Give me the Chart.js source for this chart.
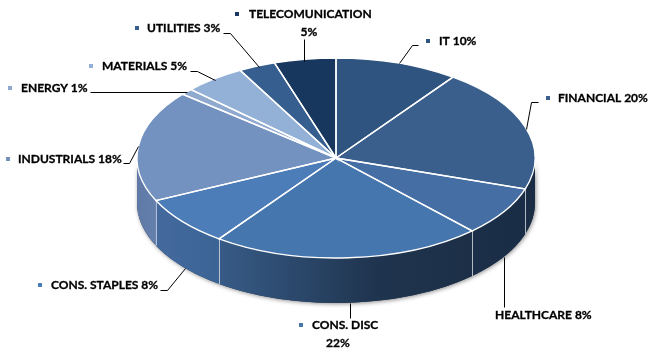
<!DOCTYPE html>
<html lang="en">
<head>
    <meta charset="UTF-8">
    <title>Sector allocation</title>
    <style>
        body { margin: 0; background: #fff; }
        canvas { display: block; }
    </style>
</head>
<body>
    <canvas id="pie" width="653" height="355"></canvas>

    <script src="https://cdn.jsdelivr.net/npm/chart.js"></script>
    <script>
        // values, clockwise from 12 o'clock
        const categories = ['IT', 'FINANCIAL', 'HEALTHCARE', 'CONS. DISC', 'CONS. STAPLES', 'INDUSTRIALS', 'ENERGY', 'MATERIALS', 'UTILITIES', 'TELECOMUNICATION'];
        const weights = [10, 20, 8, 22, 8, 18, 1, 5, 3, 5];

        // top face colours and the matching wall gradient (left to right)
        const topColors = ['#2f5480', '#3a5f8c', '#456fa4', '#4676ae', '#4d7db8', '#7492c0', '#8fa9cf', '#93b0d6', '#365e8e', '#17375e'];
        const wallColors = [
            ['#2f5480', '#2f5480'], ['#1b2e45', '#1a2c43'], ['#1b2f48', '#1a2d46'],
            ['#375b87', '#1c2f47'], ['#44699e', '#3b6494'], ['#6079a6', '#6480ac'],
            ['#8fa9cf', '#8fa9cf'], ['#93b0d6', '#93b0d6'], ['#365e8e', '#365e8e'], ['#17375e', '#17375e']
        ];
        // shape of the tilted pie on the page
        const pieX = 336, pieY = 158, pieRX = 199, pieRY = 100, pieDepth = 45;

        // label placement: text x, text y, marker x (null = no marker), line break, extra line x
        const labelFont = 'bold 12px Lato';
        const labelSpots = [
            { x: 439, y: 41, mark: 428, sep: ' ' },
            { x: 558, y: 98, mark: 548, sep: ' ' },
            { x: 495, y: 315, mark: null, sep: ' ' },
            { x: 312, y: 325, mark: 301, sep: '\n', x2: 338, y2: 343 },
            { x: 51, y: 285, mark: 40, sep: ' ' },
            { x: 18, y: 159, mark: 8, sep: ' ' },
            { x: 21, y: 88, mark: 10, sep: ' ' },
            { x: 102, y: 66, mark: 91, sep: ' ' },
            { x: 147, y: 28, mark: 137, sep: ' ' },
            { x: 249, y: 14, mark: 237, sep: '\n', x2: 309, y2: 32 }
        ];
        const leaderLines = [
            [[399, 63], [412, 45], [418, 45]],
            [[526, 129], [531, 102], [538, 102]],
            [[504, 257], [504, 307]],
            [[350, 303], [350, 318]],
            [[185, 268], [167, 290], [160, 290]],
            [[138, 146], [129, 163], [123, 163]],
            [[187, 92], [90, 92]],
            [[215, 80], [197, 71], [190, 71]],
            [[259, 67], [230, 33], [223, 33]],
            [[304, 61], [304, 39]]
        ];

        // squash the round pie into an ellipse
        function applyTilt(ctx, arc) {
            ctx.translate(pieX, pieY);
            ctx.scale(pieRX / arc.outerRadius, pieRY / arc.outerRadius);
            ctx.translate(-arc.x, -arc.y);
        }

        function drawWalls(chart) {
            const ctx = chart.ctx;
            const arcs = chart.getDatasetMeta(0).data;

            // soft shadow under the whole wall
            ctx.save();
            ctx.shadowColor = 'rgba(0,0,0,0.45)';
            ctx.shadowBlur = 4;
            ctx.shadowOffsetX = 1;
            ctx.shadowOffsetY = 1;
            ctx.fillStyle = '#1c2f47';
            ctx.beginPath();
            ctx.ellipse(pieX, pieY + pieDepth, pieRX, pieRY, 0, 0, Math.PI);
            ctx.ellipse(pieX, pieY, pieRX, pieRY, 0, Math.PI, 0, true);
            ctx.closePath();
            ctx.fill();
            ctx.restore();

            arcs.forEach((arc, i) => {
                const a1 = Math.max(arc.startAngle, 0);
                const a2 = Math.min(arc.endAngle, Math.PI);
                if (a2 <= a1) return;
                const x1 = pieX + pieRX * Math.cos(a2);
                const x2 = pieX + pieRX * Math.cos(a1);
                const grad = ctx.createLinearGradient(x1, 0, x2, 0);
                grad.addColorStop(0, wallColors[i][0]);
                if (i === 3) grad.addColorStop(0.62, '#1f344e');
                grad.addColorStop(1, wallColors[i][1]);
                ctx.fillStyle = grad;
                ctx.beginPath();
                ctx.ellipse(pieX, pieY, pieRX, pieRY, 0, a1, a2);
                ctx.ellipse(pieX, pieY + pieDepth, pieRX, pieRY, 0, a2, a1, true);
                ctx.closePath();
                ctx.fill();

                // separator on the wall
                if (arc.endAngle < Math.PI) {
                    const ex = pieX + pieRX * Math.cos(arc.endAngle);
                    const ey = pieY + pieRY * Math.sin(arc.endAngle);
                    ctx.strokeStyle = '#e4e8ee';
                    ctx.lineWidth = 1.5;
                    ctx.beginPath();
                    ctx.moveTo(ex, ey);
                    ctx.lineTo(ex, ey + pieDepth);
                    ctx.stroke();
                }
            });
        }

        function drawSpokes(chart) {
            const ctx = chart.ctx;
            ctx.save();
            ctx.strokeStyle = '#ffffff';
            ctx.lineWidth = 1.4;
            chart.getDatasetMeta(0).data.forEach(arc => {
                ctx.save();
                applyTilt(ctx, arc);
                ctx.beginPath();
                ctx.moveTo(arc.x, arc.y);
                ctx.arc(arc.x, arc.y, arc.outerRadius, arc.startAngle, arc.endAngle);
                ctx.closePath();
                ctx.restore();   // stroke with an even pen, not the squashed one
                ctx.stroke();
            });
            ctx.restore();
        }

        function drawLabels(chart) {
            const ctx = chart.ctx;
            ctx.save();
            ctx.strokeStyle = '#000000';
            ctx.lineWidth = 1;
            leaderLines.forEach(line => {
                ctx.beginPath();
                line.forEach((p, i) => i ? ctx.lineTo(p[0] + 0.5, p[1] + 0.5) : ctx.moveTo(p[0] + 0.5, p[1] + 0.5));
                ctx.stroke();
            });

            ctx.font = labelFont;
            ctx.textBaseline = 'middle';
            ctx.lineWidth = 0.3;   // the original text is a bit heavier than Lato bold
            const put = (text, x, y) => {
                ctx.strokeText(text, x, y);
                ctx.fillText(text, x, y);
            };
            labelSpots.forEach((spot, i) => {
                const pct = weights[i] + '%';
                if (spot.mark !== null) {
                    ctx.fillStyle = topColors[i];
                    ctx.fillRect(spot.mark - 2, spot.y - 2, 4, 4);
                }
                ctx.fillStyle = '#000000';
                ctx.textAlign = 'left';
                if (spot.sep === '\n') {
                    put(categories[i], spot.x, spot.y);
                    ctx.textAlign = 'center';
                    put(pct, spot.x2, spot.y2);
                } else {
                    put(categories[i] + spot.sep + pct, spot.x, spot.y);
                }
            });
            ctx.restore();
        }

        const tiltedPie = {
            id: 'tiltedPie',
            beforeDatasetsDraw(chart) {
                drawWalls(chart);
                chart.ctx.save();
                applyTilt(chart.ctx, chart.getDatasetMeta(0).data[0]);
            },
            afterDatasetsDraw(chart) {
                chart.ctx.restore();
                drawSpokes(chart);
                drawLabels(chart);
            }
        };

        new Chart(document.getElementById('pie').getContext('2d'), {
            type: 'pie',
            data: {
                labels: categories,
                datasets: [{
                    data: weights,
                    backgroundColor: topColors,
                    borderWidth: 0
                }]
            },
            options: {
                responsive: false,
                animation: false,
                plugins: {
                    legend: { display: false },
                    tooltip: { enabled: false }
                }
            },
            plugins: [tiltedPie]
        });
    </script>
</body>
</html>
